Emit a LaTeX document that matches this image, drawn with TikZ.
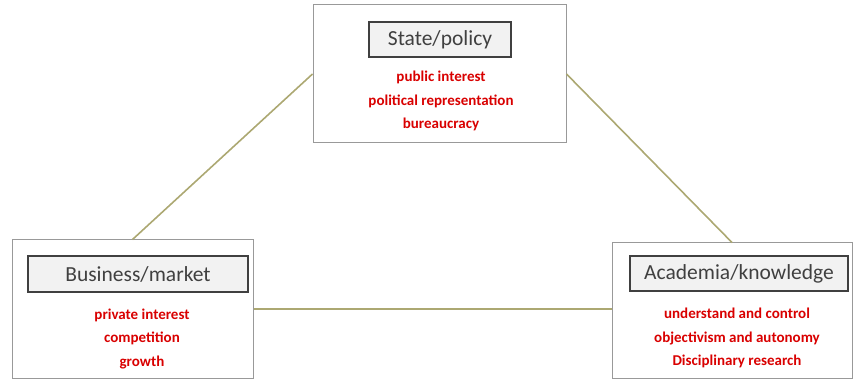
\documentclass[tikz,border=0pt]{standalone}
\usepackage{fontspec}
\setmainfont{Carlito}
\begin{document}
\begin{tikzpicture}[x=1pt,y=-1pt,
  outer/.style={draw=gray!80, line width=1pt, fill=white, inner sep=0pt},
  title/.style={draw=black!75, line width=1.3pt, fill=gray!10, inner sep=0pt, font=\fontsize{21.5}{24}\selectfont, text=black!75},
  items/.style={text=red!85!black, font=\bfseries\fontsize{15}{23.5}\selectfont, align=center},
  link/.style={draw=olive!45!gray!75, line width=1.6pt}]
\useasboundingbox (0,0) rectangle (856,379);
\node[outer, minimum width=253pt, minimum height=138pt] (state) at (439.5,74) {};
\node[outer, minimum width=241pt, minimum height=138pt] (business) at (132.5,309) {};
\node[outer, minimum width=240pt, minimum height=135pt] (academia) at (732,310.5) {};
\draw[link] (state.west) -- (business.north);
\draw[link] (state.east) -- (academia.north);
\draw[link] (business.east) -- (business.east -| academia.west);
\node[title, minimum width=142pt, minimum height=35pt] (statetitle) at (440,39.5) {State/policy};
\node[title, minimum width=220pt, minimum height=36pt] (businesstitle) at (138,274) {Business/market};
\node[title, minimum width=218pt, minimum height=35pt] (academiatitle) at (739,273.5) {Academia/knowledge};
\node[items] (stateitems) at (441,101) {public interest\\political representation\\bureaucracy};
\node[items] (businessitems) at (142,339) {private interest\\competition\\growth};
\node[items] (academiaitems) at (737,338) {understand and control\\objectivism and autonomy\\Disciplinary research};
\end{tikzpicture}
\end{document}
